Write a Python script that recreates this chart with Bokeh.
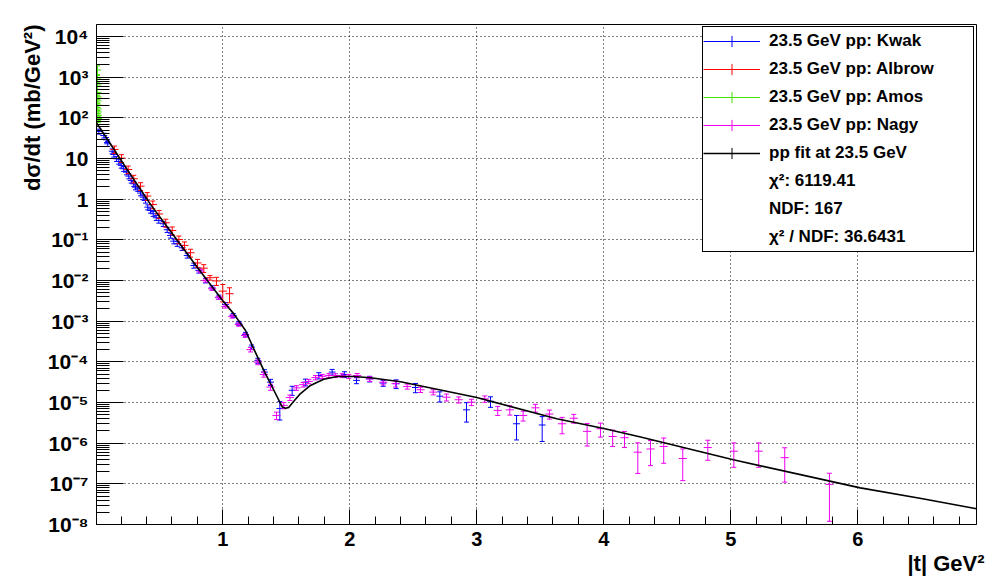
import numpy as np
from bokeh.plotting import figure
from bokeh.models import (Range1d, FixedTicker, CustomJSTickFormatter, Title,
                          Legend, LegendItem, ColumnDataSource)
from bokeh.embed import file_html
from bokeh.resources import INLINE

# ---------------- data ----------------
KWAK_T = [0.024, 0.063, 0.084, 0.094, 0.129, 0.142, 0.163, 0.181, 0.200, 0.220,
          0.242, 0.260, 0.279, 0.299, 0.313, 0.331, 0.352, 0.373, 0.391, 0.409,
          0.431, 0.452, 0.476, 0.496, 0.531, 0.562, 0.588, 0.614, 0.641, 0.680,
          0.720, 0.772, 0.811, 0.864, 0.916, 0.969, 1.021, 1.082, 1.126, 1.179,
          1.226, 1.276, 1.328, 1.376, 1.449, 1.546, 1.651, 1.756, 1.861, 1.958,
          2.053, 2.157, 2.263, 2.365, 2.517, 2.709, 2.919, 3.108, 3.313, 3.515]
KWAK_Y = [46.2, 36.8, 28.8, 23.0, 15.1, 12.6, 9.84, 8.45, 6.75, 5.58,
          4.61, 3.68, 2.88, 2.39, 1.97, 1.80, 1.41, 1.12, 0.929, 0.635,
          0.527, 0.438, 0.349, 0.299, 0.248, 0.177, 0.128, 0.0927, 0.080, 0.0638,
          0.0413, 0.0234, 0.0177, 0.0100, 6.6e-3, 3.9e-3, 2.57e-3, 1.38e-3, 8.9e-4, 4.7e-4,
          2.29e-4, 1.07e-4, 5.6e-5, 3.16e-5, 7.1e-6, 2.0e-5, 3.16e-5, 4.6e-5, 5.6e-5, 4.9e-5,
          3.5e-5, 3.8e-5, 3.0e-5, 2.9e-5, 2.34e-5, 1.43e-5, 6.6e-6, 1.07e-5, 3.0e-6, 2.8e-6]
KWAK_EY = [6.5, 5.0, 4.0, 3.2, 2.1, 1.8, 1.4, 1.2, 0.95, 0.78,
           0.65, 0.52, 0.40, 0.33, 0.28, 0.25, 0.20, 0.16, 0.13, 0.09,
           0.074, 0.061, 0.049, 0.042, 0.035, 0.025, 0.018, 0.013, 0.011, 0.009,
           0.0058, 0.0033, 0.0025, 0.0013, 8e-4, 4.5e-4, 2.8e-4, 1.6e-4, 1.0e-4, 6e-5,
           3e-5, 1.5e-5, 8e-6, 5.5e-6, 3.4e-6, 5e-6, 6e-6, 8e-6, 9e-6, 8e-6,
           6e-6, 6e-6, 5e-6, 7e-6, 6e-6, 4e-6, 3.3e-6, 3.1e-6, 1.8e-6, 1.7e-6]

ALBROW_T = [0.147, 0.202, 0.255, 0.299, 0.352, 0.405, 0.449, 0.498, 0.551, 0.602,
            0.654, 0.698, 0.746, 0.801, 0.850, 0.899, 0.950, 1.000, 1.053]
ALBROW_Y = [16.7, 10.2, 5.37, 3.18, 2.09, 1.19, 0.741, 0.432, 0.263, 0.170,
            0.102, 0.0728, 0.0481, 0.0270, 0.0201, 0.0117, 9.75e-3, 5.47e-3, 4.72e-3]
ALBROW_EY = [3.5, 2.2, 1.15, 0.68, 0.45, 0.26, 0.16, 0.095, 0.058, 0.037,
             0.022, 0.016, 0.0105, 0.006, 0.0044, 0.0015, 2.2e-3, 2.5e-3, 1.9e-3]

AMOS_T = [0.013, 0.0135, 0.014, 0.0145, 0.015, 0.0155, 0.016, 0.0165,
          0.017, 0.018, 0.019, 0.02]
AMOS_Y = [1500, 950, 640, 420, 325, 260, 206, 165, 139, 115, 96, 82]
AMOS_EY = [400, 200, 140, 80, 37, 30, 24, 15, 12, 10, 9, 6]

NAGY_T = [0.824, 0.864, 0.916, 0.969, 1.021, 1.074, 1.126, 1.175, 1.218, 1.276,
          1.323, 1.376, 1.423, 1.480, 1.528, 1.580, 1.633, 1.677, 1.730, 1.783,
          1.835, 1.887, 1.940, 1.992, 2.058, 2.157, 2.263, 2.360, 2.452, 2.557,
          2.657, 2.761, 2.858, 2.958, 3.063, 3.165, 3.260, 3.365, 3.462, 3.572,
          3.672, 3.764, 3.869, 3.974, 4.070, 4.163, 4.268, 4.368, 4.472, 4.622,
          4.819, 5.024, 5.220, 5.425, 5.777]
NAGY_Y = [0.0170, 0.0100, 6.27e-3, 3.77e-3, 2.30e-3, 1.31e-3, 8.3e-4, 4.46e-4, 2.0e-4, 9.8e-5,
          4.9e-5, 2.4e-5, 4.8e-6, 8.5e-6, 1.32e-5, 2.29e-5, 2.75e-5, 3.3e-5, 4.1e-5, 4.4e-5,
          4.6e-5, 4.6e-5, 4.6e-5, 4.4e-5, 4.6e-5, 3.8e-5, 3.16e-5, 2.9e-5, 2.48e-5, 2.06e-5,
          1.80e-5, 1.35e-5, 1.17e-5, 1.02e-5, 1.23e-5, 6.4e-6, 6.6e-6, 4.8e-6, 7.4e-6, 5.2e-6,
          3.0e-6, 4.1e-6, 1.95e-6, 2.26e-6, 1.46e-6, 1.36e-6, 6.0e-7, 7.2e-7, 8.3e-7, 4.2e-7,
          7.8e-7, 6.35e-7, 6.35e-7, 4.4e-7, 9.7e-8]
NAGY_EY = [1.5e-3, 9e-4, 5.5e-4, 3.3e-4, 2.0e-4, 1.2e-4, 8e-5, 4.5e-5, 2.5e-5, 1.3e-5,
           7e-6, 4e-6, 1.0e-6, 1.5e-6, 2e-6, 3e-6, 3.5e-6, 4e-6, 5e-6, 5e-6,
           5e-6, 5e-6, 5e-6, 5e-6, 5.5e-6, 5e-6, 4.5e-6, 5e-6, 3.5e-6, 3e-6,
           2.6e-6, 2.6e-6, 2e-6, 1.8e-6, 2.2e-6, 1.6e-6, 1.7e-6, 1.3e-6, 1.6e-6, 1.3e-6,
           1.3e-6, 1.0e-6, 1.1e-6, 8.5e-7, 6.3e-7, 5.8e-7, 4.2e-7, 4.4e-7, 5.1e-7, 3.0e-7,
           4.0e-7, 3.8e-7, 3.8e-7, 3.3e-7, 8.5e-8]

FIT_T = [0.005, 0.1, 0.2, 0.3, 0.432, 0.6, 0.8, 1.0, 1.087, 1.179,
         1.244, 1.323, 1.402, 1.468, 1.494, 1.52, 1.559, 1.612, 1.69, 1.795,
         1.90, 2.03, 2.163, 2.40, 3.0, 3.63, 4.0, 4.29, 5.02, 6.02, 6.5, 6.935]
FIT_Y = [75.9, 26.9, 8.91, 3.02, 0.733, 0.145, 0.0209, 3.16e-3, 1.51e-3, 5.89e-4,
         2.09e-4, 6.17e-5, 2.0e-5, 7.76e-6, 7.24e-6, 7.59e-6, 1.07e-5, 1.66e-5, 2.63e-5, 3.72e-5,
         4.37e-5, 4.37e-5, 4.07e-5, 3.24e-5, 1.32e-5, 3.98e-6, 2.29e-6, 1.41e-6, 3.89e-7, 7.94e-8,
         4.37e-8, 2.45e-8]

SERIES_NAMES = ["23.5 GeV pp: Kwak", "23.5 GeV pp: Albrow", "23.5 GeV pp: Amos",
                "23.5 GeV pp: Nagy", "pp fit at 23.5 GeV"]
STAT_LINES = ["\u03c7\u00b2: 6119.41", "NDF: 167", "\u03c7\u00b2 / NDF: 36.6431"]

X_MAJOR = [1, 2, 3, 4, 5, 6]
X_MINOR = [0.2, 0.4, 0.6, 0.8, 1.2, 1.4, 1.6, 1.8, 2.2, 2.4, 2.6, 2.8, 3.2, 3.4, 3.6,
           3.8, 4.2, 4.4, 4.6, 4.8, 5.2, 5.4, 5.6, 5.8, 6.2, 6.4, 6.6, 6.8]
Y_MAJOR = [1e-8, 1e-7, 1e-6, 1e-5, 1e-4, 1e-3, 1e-2, 1e-1, 1, 10, 100, 1e3, 1e4]

# ---------------- styles ----------------
FONT = "Liberation Sans"
BLUE, RED, GREEN, MAGENTA = "#0000ff", "#ff0000", "#44e000", "#ee00ee"

p = figure(width=991, height=577, output_backend="svg", toolbar_location=None,
           title=None, y_axis_type="log",
           x_range=Range1d(0.0055, 6.935), y_range=Range1d(1e-8, 1.97e4),
           min_border_left=96, min_border_right=15, min_border_top=24,
           min_border_bottom=53)
p.background_fill_color = "white"
p.border_fill_color = "white"
p.outline_line_color = "black"
p.outline_line_width = 1
p.outline_line_alpha = 1

y_minor = [k * m for m in Y_MAJOR[:-1] for k in range(2, 10)] + [2e4]
xt = FixedTicker(ticks=X_MAJOR, minor_ticks=X_MINOR)
yt = FixedTicker(ticks=Y_MAJOR, minor_ticks=y_minor)
p.xaxis.ticker = xt
p.xgrid.ticker = xt
p.yaxis.ticker = yt
p.ygrid.ticker = yt

for g in (p.xgrid, p.ygrid):
    g.grid_line_color = "black"
    g.grid_line_dash = "1 3"
    g.grid_line_width = 1
    g.grid_line_alpha = 1

for ax in (p.xaxis, p.yaxis):
    ax.axis_line_color = "black"
    ax.major_tick_line_color = "black"
    ax.minor_tick_line_color = "black"
    ax.major_tick_out = 0
    ax.minor_tick_out = 0
    ax.major_label_text_font = FONT
    ax.major_label_text_font_style = "bold"
    ax.major_label_text_color = "black"

p.xaxis.major_tick_in = 15
p.xaxis.minor_tick_in = 8
p.xaxis.major_label_text_font_size = "20px"
p.xaxis.major_label_standoff = 7

p.yaxis.major_tick_in = 27
p.yaxis.minor_tick_in = 13
p.yaxis.major_label_text_font_size = "21px"
p.yaxis.major_label_standoff = 8
p.yaxis.formatter = CustomJSTickFormatter(code="""
const e = Math.round(Math.log10(tick));
if (e == 0) return "1";
if (e == 1) return "10";
const sup = {"0":"\u2070","1":"\u00b9","2":"\u00b2","3":"\u00b3","4":"\u2074","5":"\u2075",
             "6":"\u2076","7":"\u2077","8":"\u2078","9":"\u2079","-":"\u207b"};
return "10" + String(e).split("").map(c => sup[c]).join("");
""")


def draw_series(t, y, ey, et, color):
    t = np.asarray(t, dtype=float)
    y = np.asarray(y, dtype=float)
    ey = np.asarray(ey, dtype=float)
    src = ColumnDataSource(dict(t=t, y=y, lo=y - ey, hi=y + ey, tl=t - et, tr=t + et))
    p.segment(x0="t", y0="lo", x1="t", y1="hi", source=src, line_color=color, line_width=1)
    r_h = p.segment(x0="tl", y0="y", x1="tr", y1="y", source=src, line_color=color, line_width=1)
    p.scatter(x="t", y="lo", source=src, marker="dash", size=5, line_color=color, line_width=1)
    p.scatter(x="t", y="hi", source=src, marker="dash", size=5, line_color=color, line_width=1)
    # zero-size cross: invisible on the plot, used only for the legend glyph
    r_c = p.scatter(x="t", y="y", source=src, marker="cross", size=0, line_color=color,
                    line_width=1)
    return [r_h, r_c]


leg_renderers = [
    draw_series(KWAK_T, KWAK_Y, KWAK_EY, 0.027, BLUE),
    draw_series(ALBROW_T, ALBROW_Y, ALBROW_EY, 0.032, RED),
    draw_series(AMOS_T, AMOS_Y, AMOS_EY, 0.03, GREEN),
    draw_series(NAGY_T, NAGY_Y, NAGY_EY, 0.032, MAGENTA),
]

r_fit = p.line(FIT_T, FIT_Y, line_color="black", line_width=1.6)
r_fit_c = p.scatter(FIT_T, FIT_Y, marker="cross", size=0, line_color="black", line_width=1)
leg_renderers.append([r_fit, r_fit_c])

# ---------------- legend ----------------
items = []
for name, rs in zip(SERIES_NAMES, leg_renderers):
    items.append(LegendItem(label=name, renderers=rs))
for s in STAT_LINES:
    rb = p.line(FIT_T, FIT_Y, line_alpha=0)
    items.append(LegendItem(label=s, renderers=[rb]))

legend = Legend(items=items, location="top_right", margin=2, padding=0, spacing=0,
                glyph_height=28, glyph_width=57, label_height=28, label_standoff=9,
                label_width=204, label_text_font=FONT, label_text_font_size="17px",
                label_text_font_style="bold", label_text_color="black",
                border_line_color="black", border_line_width=1, border_line_alpha=1,
                background_fill_color="white", background_fill_alpha=1)
p.add_layout(legend)

# ---------------- axis titles ----------------
p.add_layout(Title(text="d\u03c3/dt (mb/GeV\u00b2)", align="right", offset=0, standoff=0,
                   text_font=FONT, text_font_size="22px", text_font_style="bold",
                   text_color="black"), "left")
p.add_layout(Title(text="|t| GeV\u00b2", align="right", offset=-8, standoff=0,
                   text_font=FONT, text_font_size="22px", text_font_style="bold",
                   text_color="black"), "below")

open("out.html", "w").write(file_html(p, INLINE))
